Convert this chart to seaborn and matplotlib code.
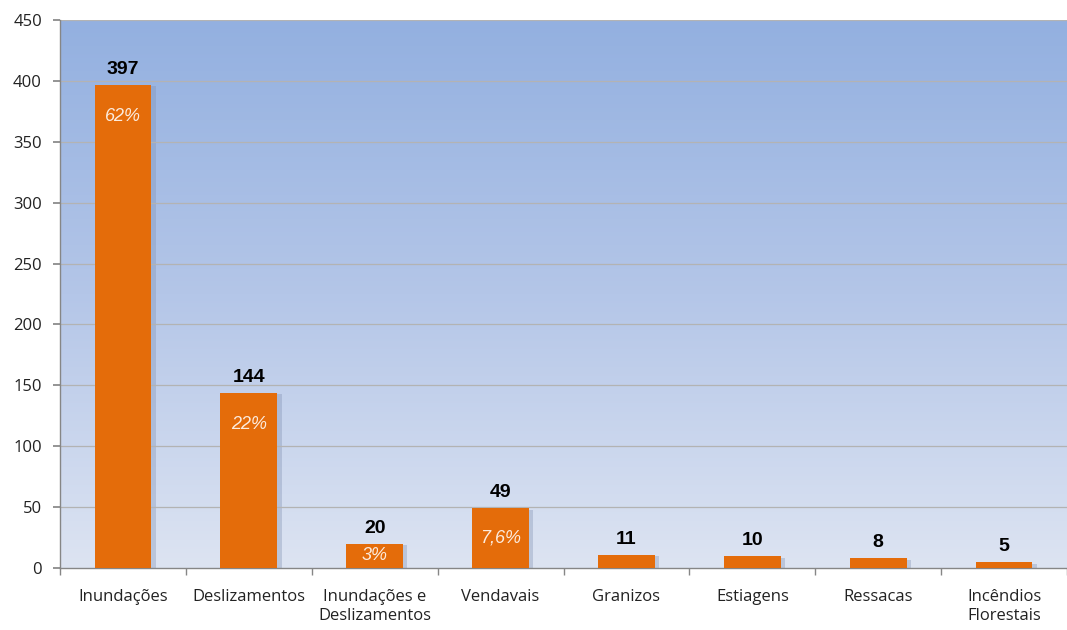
import numpy as np
import pandas as pd
import matplotlib
matplotlib.use("Agg")
import matplotlib.pyplot as plt
import seaborn as sns
from matplotlib.colors import LinearSegmentedColormap

categories = ["Inundações", "Deslizamentos", "Inundações e\nDeslizamentos", "Vendavais",
              "Granizos", "Estiagens", "Ressacas", "Incêndios\nFlorestais"]
values = [397, 144, 20, 49, 11, 10, 8, 5]
percent_labels = ["62%", "22%", "3%", "7,6%", "", "", "", ""]
y_ticks = [0, 50, 100, 150, 200, 250, 300, 350, 400, 450]

sns.set_theme(style="white")
plt.rcParams['font.family'] = ['Open Sans', 'DejaVu Sans']

df = pd.DataFrame({"cat": categories, "val": values})

fig = plt.figure(figsize=(10.67, 6.3), dpi=100)
ax = fig.add_axes([60/1067, 62/630, 1 - 60/1067, (568-20)/630])

# gradient background
cmap = LinearSegmentedColormap.from_list("bg", ["#DDE4F2", "#B4C6E8", "#93B0E0"])
grad = np.linspace(0, 1, 256).reshape(-1, 1)
ax.imshow(grad, aspect="auto", cmap=cmap, origin="lower",
          extent=(-0.5, len(categories) - 0.5, 0, 450), zorder=0)

orange = "#E46C0A"
# shadows
for i, v in enumerate(values):
    ax.bar(i + 0.035, v - 1.5, width=0.45, bottom=0, color="#7F8FB0", alpha=0.35, zorder=1, linewidth=0)

sns.barplot(data=df, x="cat", y="val", color=orange, width=0.45, saturation=1,
            ax=ax, zorder=3, linewidth=0)

ax.set_xlim(-0.5, len(categories) - 0.5)
ax.set_ylim(0, 450)
ax.set_yticks(y_ticks)
ax.set_xlabel("")
ax.set_ylabel("")
for y in y_ticks[1:]:
    ax.axhline(y, color="#B3B3B3", linewidth=0.9, zorder=2)

# value labels
for i, v in enumerate(values):
    ax.annotate(str(v), (i, v), xytext=(0, 5), textcoords="offset points",
                ha="center", va="bottom", fontsize=14, fontweight="bold",
                color="black", family=["Liberation Sans", "DejaVu Sans"], zorder=5)

# percentage labels
px_per_unit = (568 - 20) / 450
for i, (v, p) in enumerate(zip(values, percent_labels)):
    if not p:
        continue
    h_px = v * px_per_unit
    off_px = min(29, h_px * 0.45)
    ax.annotate(p, (i, v), xytext=(0, -off_px * 0.8), textcoords="offset points",
                ha="center", va="center", fontsize=13, fontstyle="italic",
                color="#FCEBDD", family=["Liberation Sans", "DejaVu Sans"], zorder=5)

for s in ["top", "right"]:
    ax.spines[s].set_visible(False)
for s in ["left", "bottom"]:
    ax.spines[s].set_color("#868686")
    ax.spines[s].set_linewidth(1.0)

ax.set_xticks(np.arange(len(categories)))
ax.set_xticklabels(categories, fontsize=12, color="#222222", linespacing=1.25)
ax.set_xticks(np.arange(len(categories) + 1) - 0.5, minor=True)
ax.tick_params(axis="x", which="major", length=0, pad=15)
ax.tick_params(axis="x", which="minor", length=5, color="#868686", direction="out", bottom=True)
ax.tick_params(axis="y", length=5, color="#868686", direction="out", left=True,
               labelsize=12, labelcolor="#222222", pad=8)

fig.savefig("out.png", dpi=100)
